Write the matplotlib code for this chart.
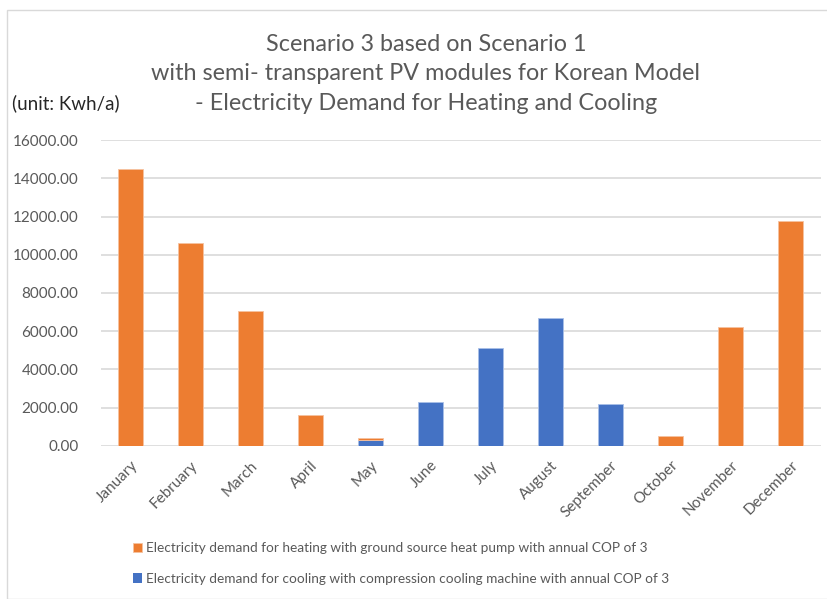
import matplotlib.pyplot as plt
from matplotlib.patches import Rectangle

plt.rcParams['font.family'] = ['Lato', 'DejaVu Sans']

# données
mois = ["January", "February", "March", "April", "May", "June", "July",
        "August", "September", "October", "November", "December"]
chauffage = [14490, 10630, 7040, 1590, 90, 0, 0, 0, 0, 510, 6230, 11760]
refroidissement = [0, 0, 0, 0, 300, 2300, 5100, 6670, 2170, 0, 0, 0]
yticks = [0, 2000, 4000, 6000, 8000, 10000, 12000, 14000, 16000]

orange = '#ED7D31'
bleu = '#4472C4'
gris = '#595959'

fig = plt.figure(figsize=(8.27, 5.99), dpi=100)
ax = fig.add_axes([0.1217, 0.2559, 0.8706, 0.5102])

x = range(len(mois))
# pas de bord pour les barres de hauteur nulle
lw_froid = [0.6 if v > 0 else 0 for v in refroidissement]
lw_chaud = [0.6 if v > 0 else 0 for v in chauffage]
b_froid = ax.bar(x, refroidissement, width=0.42, color=bleu, edgecolor='#a9c0e8',
                 linewidth=lw_froid, zorder=3)
b_chaud = ax.bar(x, chauffage, width=0.42, bottom=refroidissement, color=orange,
                 edgecolor='#f6c2a0', linewidth=lw_chaud, zorder=3)

ax.set_xlim(-0.5, len(mois) - 0.5)
ax.set_ylim(0, 16000)
ax.set_yticks(yticks)
ax.set_yticklabels([f"{v:.2f}" for v in yticks], color=gris, fontsize=11)
ax.set_xticks(list(x))
ax.set_xticklabels(mois, rotation=45, ha='right', rotation_mode='anchor',
                   color=gris, fontsize=11)
ax.tick_params(length=0)
ax.tick_params(axis='y', pad=16)
ax.tick_params(axis='x', pad=9)
ax.yaxis.grid(True, color='#D9D9D9', linewidth=1.2, zorder=0)
for s in ax.spines.values():
    s.set_visible(False)

# titre sur trois lignes
fig.text(0.515, 0.944, "Scenario 3 based on Scenario 1\n"
         "with semi- transparent PV modules for Korean Model\n"
         "- Electricity Demand for Heating and Cooling",
         ha='center', va='top', fontsize=16.8, color=gris, linespacing=1.5)
fig.text(0.015, 0.828, "(unit: Kwh/a)", ha='left', va='center', fontsize=13.5,
         color='#262626')

# légende en bas
fig.legend([b_chaud, b_froid],
           ["Electricity demand for heating with ground source heat pump with annual COP of 3",
            "Electricity demand for cooling with compression cooling machine with annual COP of 3"],
           loc='upper left', bbox_to_anchor=(0.152, 0.106), frameon=False,
           fontsize=9.8, labelcolor=gris, handlelength=0.7, handleheight=0.7,
           handletextpad=0.3, labelspacing=1.35, borderpad=0)

# cadre gris clair
fig.patches.append(Rectangle((7 / 827, 0.0), 1.0, 1 - 10 / 599, transform=fig.transFigure,
                             fill=False, edgecolor='#D9D9D9', linewidth=1))

fig.savefig('out.png', dpi=100)
